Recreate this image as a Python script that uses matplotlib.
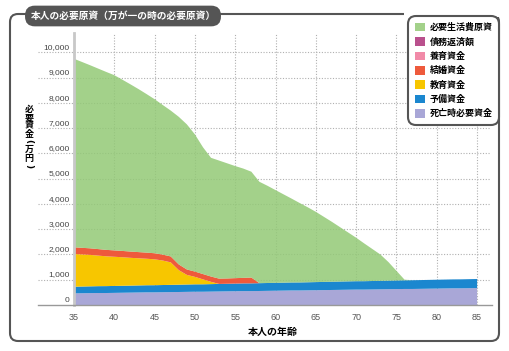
import matplotlib.pyplot as plt
from matplotlib.patches import FancyBboxPatch, Rectangle, Patch

plt.rcParams['font.family'] = ['Noto Sans CJK JP', 'DejaVu Sans']

# ages on the x axis (one value per year)
ages = list(range(35, 86))

# layer thicknesses (万円), bottom to top
death_fund = [460, 465, 470, 475, 475, 480, 485, 490, 495, 500,
              500, 505, 510, 515, 520, 525, 525, 530, 535, 540,
              545, 550, 550, 555, 560, 565, 570, 575, 575, 580,
              585, 590, 595, 600, 605, 610, 610, 615, 620, 625,
              630, 635, 635, 640, 645, 650, 655, 660, 660, 665, 670]
reserve = [265, 267, 269, 271, 273, 275, 276, 278, 280, 282,
           284, 286, 288, 290, 292, 294, 295, 297, 299, 301,
           303, 305, 307, 309, 311, 313, 314, 316, 318, 320,
           322, 324, 326, 328, 330, 332, 333, 335, 337, 339,
           341, 343, 345, 347, 349, 351, 352, 354, 356, 358, 360]
education = [1295, 1270, 1245, 1210, 1180, 1155, 1130, 1100, 1075, 1050,
             1025, 970, 890, 575, 380, 295, 195, 90, 0, 0,
             0, 0, 0, 0, 0, 0, 0, 0, 0, 0,
             0, 0, 0, 0, 0, 0, 0, 0, 0, 0,
             0, 0, 0, 0, 0, 0, 0, 0, 0, 0, 0]
wedding = [265, 262, 260, 258, 255, 252, 250, 248, 245, 242,
           240, 235, 235, 225, 215, 210, 210, 210, 210, 210,
           215, 220, 230, 0, 0, 0, 0, 0, 0, 0,
           0, 0, 0, 0, 0, 0, 0, 0, 0, 0,
           0, 0, 0, 0, 0, 0, 0, 0, 0, 0, 0]
upbringing = [0] * 51
debt = [0] * 51
living = [7465, 7358, 7250, 7147, 7045, 6938, 6780, 6622, 6455, 6278,
          6100, 5925, 5775, 5845, 5745, 5430, 5020, 4700, 4675, 4559,
          4438, 4327, 4191, 4015, 3849, 3672, 3496, 3320, 3144, 2968,
          2782, 2576, 2370, 2154, 1938, 1721, 1495, 1269, 1043, 737,
          381, 25, 0, 0, 0, 0, 0, 0, 0, 0, 0]

layers = [death_fund, reserve, education, wedding, upbringing, debt, living]
names = ['死亡時必要資金', '予備資金', '教育資金', '結婚資金', '養育資金', '債務返済額', '必要生活費原資']
colors = ['#a9a7d7', '#1b87cf', '#f7c600', '#ee5a3c', '#f18aa8', '#b9508d', '#93c976']
legend_colors = ['#a9a7d7', '#1b87cf', '#f7c600', '#ee5a3c', '#f18aa8', '#b9508d', '#a3d18a']

xticks = [35, 40, 45, 50, 55, 60, 65, 70, 75, 80, 85]
yticks = [0, 1000, 2000, 3000, 4000, 5000, 6000, 7000, 8000, 9000, 10000]
ytick_labels = ['0', '1,000', '2,000', '3,000', '4,000', '5,000', '6,000', '7,000', '8,000', '9,000', '10,000']

W, H = 510, 351
fig = plt.figure(figsize=(W / 100, H / 100), dpi=100)
ax = fig.add_axes([74 / W, 1 - 305 / H, (490 - 74) / W, (305 - 33) / H])

polys = ax.stackplot(ages, *layers, colors=colors, linewidth=0)
polys[-1].set_alpha(0.85)

ax.set_xlim(35, 86.6)
ax.set_ylim(0, 10770)
ax.set_axisbelow(True)

# grid
ax.set_xticks(xticks)
ax.set_yticks([])
ax.grid(axis='x', color='#b0b0b0', linestyle=(0, (1, 1.5)), linewidth=0.8)
gl = (38 - 74) / (490 - 74)
for v, lab in zip(yticks, ytick_labels):
    if v > 0:
        ax.axhline(v, xmin=gl, xmax=1, color='#b0b0b0', linestyle=(0, (1, 1.5)),
                   linewidth=0.8, clip_on=False, zorder=0)
    ax.annotate(lab, xy=(0, v), xycoords=('axes fraction', 'data'), xytext=(-3, 1),
                textcoords='offset points', ha='right', va='bottom', fontsize=6,
                color='#444444', family=['Liberation Sans', 'DejaVu Sans'])
ax.axhline(0, xmin=gl, xmax=1.005, color='#999999', linewidth=1, clip_on=False, zorder=3)

for s in ['top', 'right', 'bottom']:
    ax.spines[s].set_visible(False)
ax.spines['left'].set_color('#c8c8c8')
ax.spines['left'].set_linewidth(2)
ax.tick_params(axis='x', length=0, pad=6, labelsize=6.5, labelcolor='#555555')
for t in ax.get_xticklabels():
    t.set_family(['Liberation Sans', 'DejaVu Sans'])

# legend
handles = [Patch(facecolor=c, edgecolor='none') for c in legend_colors[::-1]]
leg = ax.legend(handles, names[::-1], loc='upper right',
                bbox_to_anchor=(499.5 / W, 1 - 16 / H), bbox_transform=fig.transFigure,
                borderaxespad=0, prop={'weight': 'bold', 'size': 6.5},
                handlelength=1.1, handleheight=1.1, handletextpad=0.55,
                labelspacing=0.55, borderpad=0.75, fancybox=True, framealpha=1)
leg.get_frame().set_edgecolor('#555555')
leg.get_frame().set_linewidth(1.5)
leg.get_frame().set_boxstyle('round,pad=0,rounding_size=0.9')
leg.set_zorder(10)

# outer frame
frame = FancyBboxPatch((0.10, (H - 341) / 100), 4.89, 3.27,
                       boxstyle='round,pad=0,rounding_size=0.08',
                       transform=fig.dpi_scale_trans, facecolor='none',
                       edgecolor='#555555', linewidth=1.5, zorder=-2)
fig.patches.append(frame)
cover = Rectangle((4.04, (H - 17) / 100), 1.1, 0.2, transform=fig.dpi_scale_trans,
                  facecolor='white', edgecolor='none', zorder=-1)
fig.patches.append(cover)

# title pill
fig.text(123 / W, 1 - 16 / H, '本人の必要原資（万が一の時の必要原資）', color='white',
         fontsize=7.0, fontweight='bold', ha='center', va='center',
         bbox=dict(boxstyle='round,pad=0.55,rounding_size=1.0', facecolor='#555555',
                   edgecolor='none'), zorder=5)

# axis labels
fig.text(273 / W, 1 - 332 / H, '本人の年齢', fontsize=7.2, fontweight='bold',
         ha='center', va='center')
ylab_chars = ['必', '要', '資', '金', '(', '万', '円', ')']
ylab_pos = [109, 117.5, 126, 134.5, 141.5, 149, 158, 166]
for ch, py in zip(ylab_chars, ylab_pos):
    if ch in '()':
        fig.text(29 / W, 1 - py / H, ch, fontsize=6.5, fontweight='bold',
                 ha='center', va='center', rotation=-90, family='DejaVu Sans')
    else:
        fig.text(29 / W, 1 - py / H, ch, fontsize=6.5, fontweight='bold',
                 ha='center', va='center')

fig.savefig('out.png', dpi=100)
